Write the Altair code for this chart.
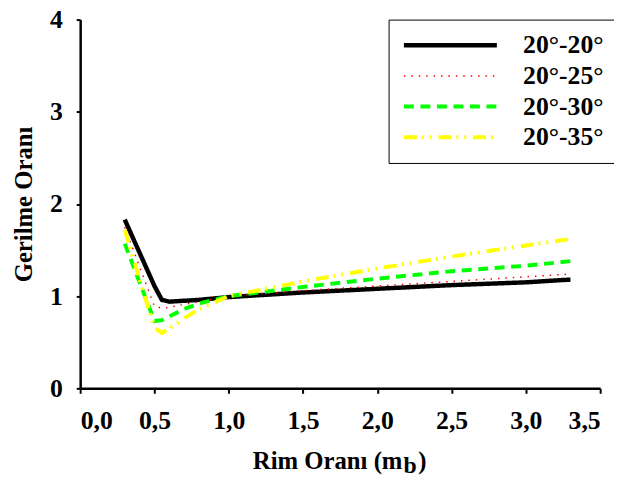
import altair as alt
import pandas as pd

series = ["20°-20°", "20°-25°", "20°-30°", "20°-35°"]
x_vals = [0.3, 0.4, 0.5, 0.55, 0.6, 0.7, 0.8, 1.0, 1.5, 2.0, 2.5, 3.0, 3.3]
y_2020 = [1.83, 1.47, 1.11, 0.96, 0.94, 0.95, 0.96, 0.99, 1.04, 1.08, 1.12, 1.15, 1.18]
y_2025 = [1.75, 1.32, 0.89, 0.87, 0.88, 0.91, 0.94, 1.00, 1.06, 1.11, 1.16, 1.21, 1.24]
y_2030 = [1.57, 1.15, 0.73, 0.74, 0.78, 0.86, 0.92, 1.00, 1.10, 1.19, 1.27, 1.33, 1.38]
y_2035 = [1.72, 1.18, 0.66, 0.60, 0.65, 0.76, 0.86, 1.00, 1.16, 1.30, 1.43, 1.55, 1.62]

colors = ["#000000", "#ff0000", "#00ff00", "#ffff00"]
dashes = [[1, 0], [1.5, 6], [10, 6.7], [13, 5, 2, 6, 2, 7]]
widths = [4.5, 1.5, 4, 4]

rows = []
for name, ys in zip(series, [y_2020, y_2025, y_2030, y_2035]):
    for i, (x, y) in enumerate(zip(x_vals, ys)):
        rows.append({"mb": x, "val": y, "seri": name, "o": i})
df = pd.DataFrame(rows)

FONT = "Times New Roman, Liberation Serif, DejaVu Serif, serif"

lines = alt.Chart(df).mark_line().encode(
    x=alt.X("mb:Q", scale=alt.Scale(domain=[0, 3.5], nice=False),
            axis=alt.Axis(values=[0, 0.5, 1, 1.5, 2, 2.5, 3, 3.5],
                          labelExpr="replace(format(datum.value, '.1f'), '.', ',')",
                          title=None, tickSize=5, labelPadding=15, grid=False)),
    y=alt.Y("val:Q", scale=alt.Scale(domain=[0, 4], nice=False),
            axis=alt.Axis(values=[0, 1, 2, 3, 4], title="Gerilme Oranı",
                          tickSize=4, labelPadding=14, titlePadding=13, grid=False,
                          titleFontSize=25)),
    color=alt.Color("seri:N", scale=alt.Scale(domain=series, range=colors),
                    legend=alt.Legend(title=None)),
    strokeDash=alt.StrokeDash("seri:N", scale=alt.Scale(domain=series, range=dashes),
                              legend=alt.Legend(title=None)),
    strokeWidth=alt.StrokeWidth("seri:N", scale=alt.Scale(type="ordinal", domain=series, range=widths),
                                legend=alt.Legend(title=None)),
    order="o:Q",
)

t1 = alt.Chart(pd.DataFrame({"t": ["Rim Oranı (m"]})).mark_text(
    font=FONT, fontSize=25, fontWeight="bold", align="right", baseline="alphabetic", color="black"
).encode(x=alt.value(326), y=alt.value(455), text="t:N")
t2 = alt.Chart(pd.DataFrame({"t": ["b"]})).mark_text(
    font=FONT, fontSize=24, fontWeight="bold", align="left", baseline="alphabetic", color="black"
).encode(x=alt.value(327), y=alt.value(459), text="t:N")
t3 = alt.Chart(pd.DataFrame({"t": [")"]})).mark_text(
    font=FONT, fontSize=25, fontWeight="bold", align="left", baseline="alphabetic", color="black"
).encode(x=alt.value(342), y=alt.value(455), text="t:N")

chart = alt.layer(lines, t1, t2, t3).properties(
    width=526, height=373,
    autosize=alt.AutoSizeParams(type="none"),
    padding={"left": 73, "top": 9, "right": 14, "bottom": 92},
).configure_view(stroke=None).configure_axis(
    domainColor="black", domainWidth=2.5, tickColor="black", tickWidth=2,
    labelFont=FONT, labelFontSize=26, labelFontWeight="bold", labelColor="black",
    titleFont=FONT, titleFontSize=25, titleFontWeight="bold", titleColor="black",
).configure_legend(
    orient="none", legendX=312, legendY=0,
    strokeColor="black", fillColor="white", padding=13,
    symbolType="stroke", symbolSize=8836, clipHeight=26, rowPadding=5,
    labelFont=FONT, labelFontSize=26, labelFontWeight="bold", labelColor="black",
    labelOffset=24, labelLimit=200,
)

chart.save("out.html", embed_options={"renderer": "svg", "actions": False})
